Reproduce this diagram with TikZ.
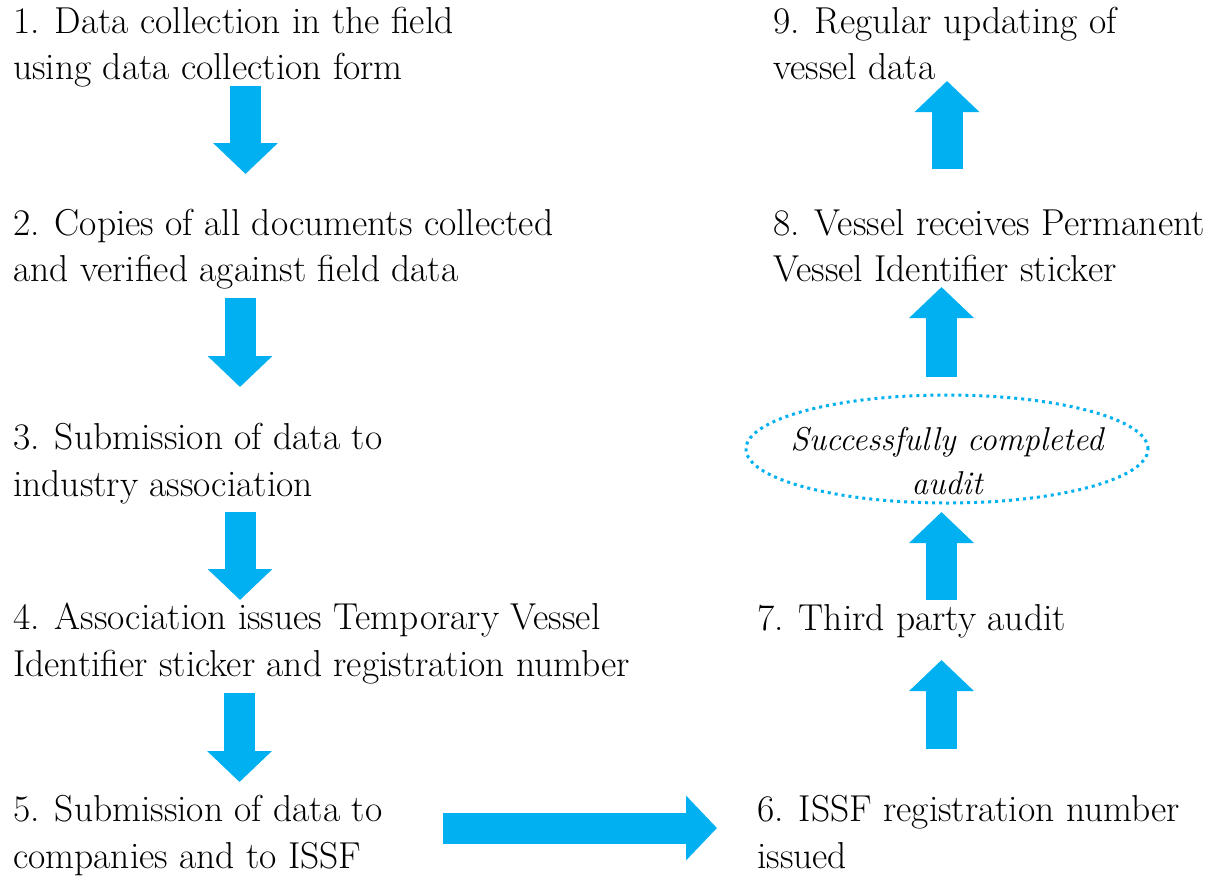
\documentclass[tikz,border=0pt]{standalone}
\usetikzlibrary{arrows.meta,shapes.geometric}
\definecolor{flowblue}{RGB}{0,176,240}
\newcommand{\auditlines}[2]{\raisebox{-1pt}[0pt][0pt]{\makebox[0pt]{\vtop{\baselineskip=44pt\halign{\hfil##\hfil\cr #1\cr #2\cr}}}}}
\begin{document}
\begin{tikzpicture}[x=1pt,y=-1pt,
  stepnode/.style={anchor=base west, align=left, inner sep=0pt,
    font=\fontsize{37.5}{46.5}\selectfont},
  flow/.style={draw=flowblue, line width=31pt,
    -{Triangle[width=63pt,length=31pt]}},
  auditnode/.style={ellipse, draw=flowblue, line width=3pt,
    dash pattern=on 3pt off 4pt, minimum width=402pt, minimum height=108pt,
    inner sep=0pt, font=\fontsize{33}{44}\selectfont\itshape}]
\useasboundingbox (0,0) rectangle (1214,878);
\node[stepnode] (s1) at (13,79.5) {1. Data collection in the field\\using data collection form};
\node[stepnode] (s2) at (13,281.5) {2. Copies of all documents collected\\and verified against field data};
\node[stepnode] (s3) at (13,496) {3. Submission of data to\\industry association};
\node[stepnode] (s4) at (13,676) {4. Association issues Temporary Vessel\\Identifier sticker and registration number};
\node[stepnode] (s5) at (13,868) {5. Submission of data to\\companies and to ISSF};
\node[stepnode] (s6) at (757,868) {6. ISSF registration number\\issued};
\node[stepnode] (s7) at (757,630) {7. Third party audit};
\node[stepnode] (s8) at (773,281.5) {8. Vessel receives Permanent\\Vessel Identifier sticker};
\node[stepnode] (s9) at (773,79.5) {9. Regular updating of\\vessel data};
\node[auditnode] (audit) at (947,449) {\auditlines{Successfully completed}{audit}};
\coordinate (a1s) at (245.5,86);  \coordinate (a1e) at (245.5,174);
\coordinate (a2s) at (240,298);   \coordinate (a2e) at (240,387);
\coordinate (a3s) at (240,512);   \coordinate (a3e) at (240,600);
\coordinate (a4s) at (239.5,693); \coordinate (a4e) at (239.5,782);
\coordinate (a5s) at (443,828);   \coordinate (a5e) at (717,828);
\coordinate (a6s) at (941.5,749); \coordinate (a6e) at (941.5,660);
\coordinate (a7s) at (941.5,600); \coordinate (a7e) at (941.5,512);
\coordinate (a8s) at (941.5,377); \coordinate (a8e) at (941.5,287);
\coordinate (a9s) at (947,169);   \coordinate (a9e) at (947,81);
\foreach \i in {1,...,9} {\draw[flow] (a\i s) -- (a\i e);}
\end{tikzpicture}
\end{document}
